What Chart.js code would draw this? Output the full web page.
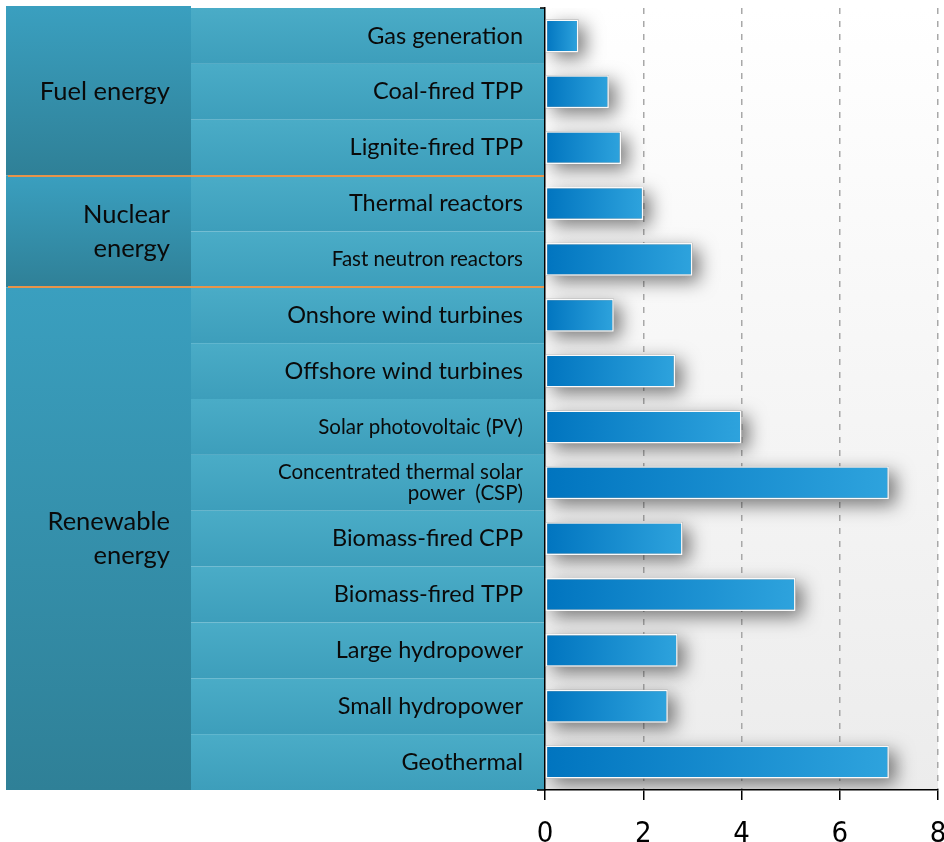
<!DOCTYPE html>
<html>
<head>
<meta charset="utf-8">
<script src="https://cdn.jsdelivr.net/npm/chart.js@4/dist/chart.umd.min.js"></script>
<style>
  html, body { margin: 0; padding: 0; background: #fff; }
</style>
</head>
<body>
<canvas id="grafico" width="944" height="842"></canvas>
<script>
const categorias = [
  'Gas generation', 'Coal-fired TPP', 'Lignite-fired TPP',
  'Thermal reactors', 'Fast neutron reactors',
  'Onshore wind turbines', 'Offshore wind turbines', 'Solar photovoltaic (PV)',
  ['Concentrated thermal solar', 'power  (CSP)'],
  'Biomass-fired CPP', 'Biomass-fired TPP', 'Large hydropower', 'Small hydropower', 'Geothermal'
]
const valores = [0.68, 1.3, 1.55, 2.0, 3.0, 1.4, 2.65, 4.0, 7.0, 2.8, 5.1, 2.7, 2.5, 7.0]
const grupos = [['Fuel energy'], ['Nuclear', 'energy'], ['Renewable', 'energy']]
const linhasPorGrupo = [3, 2, 9]
const ticksX = [0, 2, 4, 6, 8]

// rows whose label is set in the smaller font
const linhasPequenas = [4, 7, 8]

// label panel: group column + one band per row, painted behind the chart
const painel = {
  id: 'painel',
  beforeDraw(chart) {
    const { ctx, chartArea: a, scales: { y } } = chart
    const alturaLinha = (a.bottom - a.top) / categorias.length

    let g = ctx.createLinearGradient(0, a.top, 0, a.bottom)
    g.addColorStop(0, '#ffffff')
    g.addColorStop(1, '#ececec')
    ctx.fillStyle = g
    ctx.fillRect(a.left, a.top, a.right - a.left, a.bottom - a.top)

    categorias.forEach((c, i) => {
      const topo = y.getPixelForValue(i) - alturaLinha / 2
      const faixa = ctx.createLinearGradient(0, topo, 0, topo + alturaLinha)
      faixa.addColorStop(0, '#4aacc7')
      faixa.addColorStop(1, '#3d9ebb')
      ctx.fillStyle = faixa
      ctx.fillRect(191, topo, a.left - 191, alturaLinha)
    })

    let inicio = 0
    const separadores = []
    grupos.forEach((nomes, k) => {
      const n = linhasPorGrupo[k]
      const topo = y.getPixelForValue(inicio) - alturaLinha / 2
      const base = y.getPixelForValue(inicio + n - 1) + alturaLinha / 2
      const col = ctx.createLinearGradient(0, topo, 0, base)
      col.addColorStop(0, '#3a9fbf')
      col.addColorStop(1, '#2f8097')
      ctx.fillStyle = col
      ctx.fillRect(6, k === 0 ? topo - 2 : topo, 185, base - topo + (k === 0 ? 2 : 0))

      ctx.fillStyle = '#0a0a0a'
      ctx.font = '25.5px Lato'
      ctx.textAlign = 'right'
      ctx.textBaseline = 'middle'
      const meio = (topo + base) / 2
      nomes.forEach((linha, j) => {
        ctx.fillText(linha, 170, meio + (j - (nomes.length - 1) / 2) * 34)
      })

      if (k > 0) separadores.push(Math.round(topo))
      inicio += n
    })

    // orange rules between the groups
    ctx.fillStyle = '#e8944a'
    separadores.forEach(s => ctx.fillRect(8, s - 1, a.left - 8, 2))
  },
  afterDraw(chart) {
    const { ctx, chartArea: a } = chart
    ctx.save()
    ctx.strokeStyle = '#000'
    ctx.lineWidth = 1.5
    ctx.beginPath()
    ctx.moveTo(a.left - 8, a.bottom)
    ctx.lineTo(a.left, a.bottom)
    ctx.moveTo(a.left - 5, a.top)
    ctx.lineTo(a.left, a.top)
    ctx.stroke()
    ctx.restore()
  }
}

// soft drop shadow under every bar
const sombra = {
  id: 'sombra',
  beforeDatasetsDraw(chart) {
    const { ctx, chartArea: a } = chart
    ctx.save()
    ctx.beginPath()
    ctx.rect(a.left, a.top, a.right - a.left, a.bottom - a.top)
    ctx.clip()
    ctx.shadowColor = 'rgba(0,0,0,0.5)'
    ctx.shadowBlur = 18
    ctx.shadowOffsetX = 7
    ctx.shadowOffsetY = 6
    ctx.fillStyle = '#999'
    chart.getDatasetMeta(0).data.forEach(b => {
      const p = b.getProps(['x', 'y', 'base', 'height'], true)
      ctx.fillRect(p.base, p.y - p.height / 2, p.x - p.base, p.height)
    })
    ctx.restore()
  }
}

const corBarra = (c) => {
  const chart = c.chart
  if (!chart.chartArea || c.raw === undefined) return '#1a8ad0'
  const xs = chart.scales.x
  const g = chart.ctx.createLinearGradient(xs.getPixelForValue(0), 0, xs.getPixelForValue(c.raw), 0)
  g.addColorStop(0, '#0074bf')
  g.addColorStop(1, '#2ea3dd')
  return g
}

const desenhar = () => {
  new Chart(document.getElementById('grafico'), {
    type: 'bar',
    data: {
      labels: categorias,
      datasets: [{
        data: valores,
        backgroundColor: corBarra,
        borderColor: 'rgba(255,255,255,0.95)',
        borderWidth: 1.5,
        borderSkipped: false,
        categoryPercentage: 1,
        barPercentage: 0.59
      }]
    },
    options: {
      indexAxis: 'y',
      responsive: false,
      animation: false,
      devicePixelRatio: 1,
      layout: { padding: { top: 8, right: 6, bottom: 0, left: 0 } },
      plugins: { legend: { display: false }, tooltip: { enabled: false } },
      scales: {
        x: {
          min: 0,
          max: 8,
          afterBuildTicks: s => { s.ticks = ticksX.map(v => ({ value: v })) },
          afterFit: s => { s.height = 52; s.paddingLeft = 0; s.paddingRight = 0 },
          grid: {
            color: c => c.tick && c.tick.value === 0 ? 'rgba(0,0,0,0)' : '#a8a8a8',
            lineWidth: 1.5,
            tickColor: '#000',
            tickLength: 10,
            tickWidth: 1.5
          },
          border: { color: '#000', width: 1.5, dash: [6, 7] },
          ticks: {
            color: '#000',
            padding: 17,
            font: { family: "'Liberation Sans Narrow', 'DejaVu Sans Condensed', sans-serif", size: 29 }
          }
        },
        y: {
          afterFit: s => { s.width = 545; s.paddingTop = 0; s.paddingBottom = 0 },
          grid: { display: false, drawTicks: false },
          border: { color: '#000', width: 1.5 },
          ticks: {
            color: '#0a0a0a',
            padding: 22,
            autoSkip: false,
            font: c => ({ family: 'Lato', size: linhasPequenas.includes(c.index) ? 20.5 : 23.5, lineHeight: 1.05 })
          }
        }
      }
    },
    plugins: [painel, sombra]
  })
}

Promise.all([document.fonts.load('22px Lato'), document.fonts.load("32px 'Liberation Sans Narrow'")])
  .then(desenhar, desenhar)
</script>
</body>
</html>
